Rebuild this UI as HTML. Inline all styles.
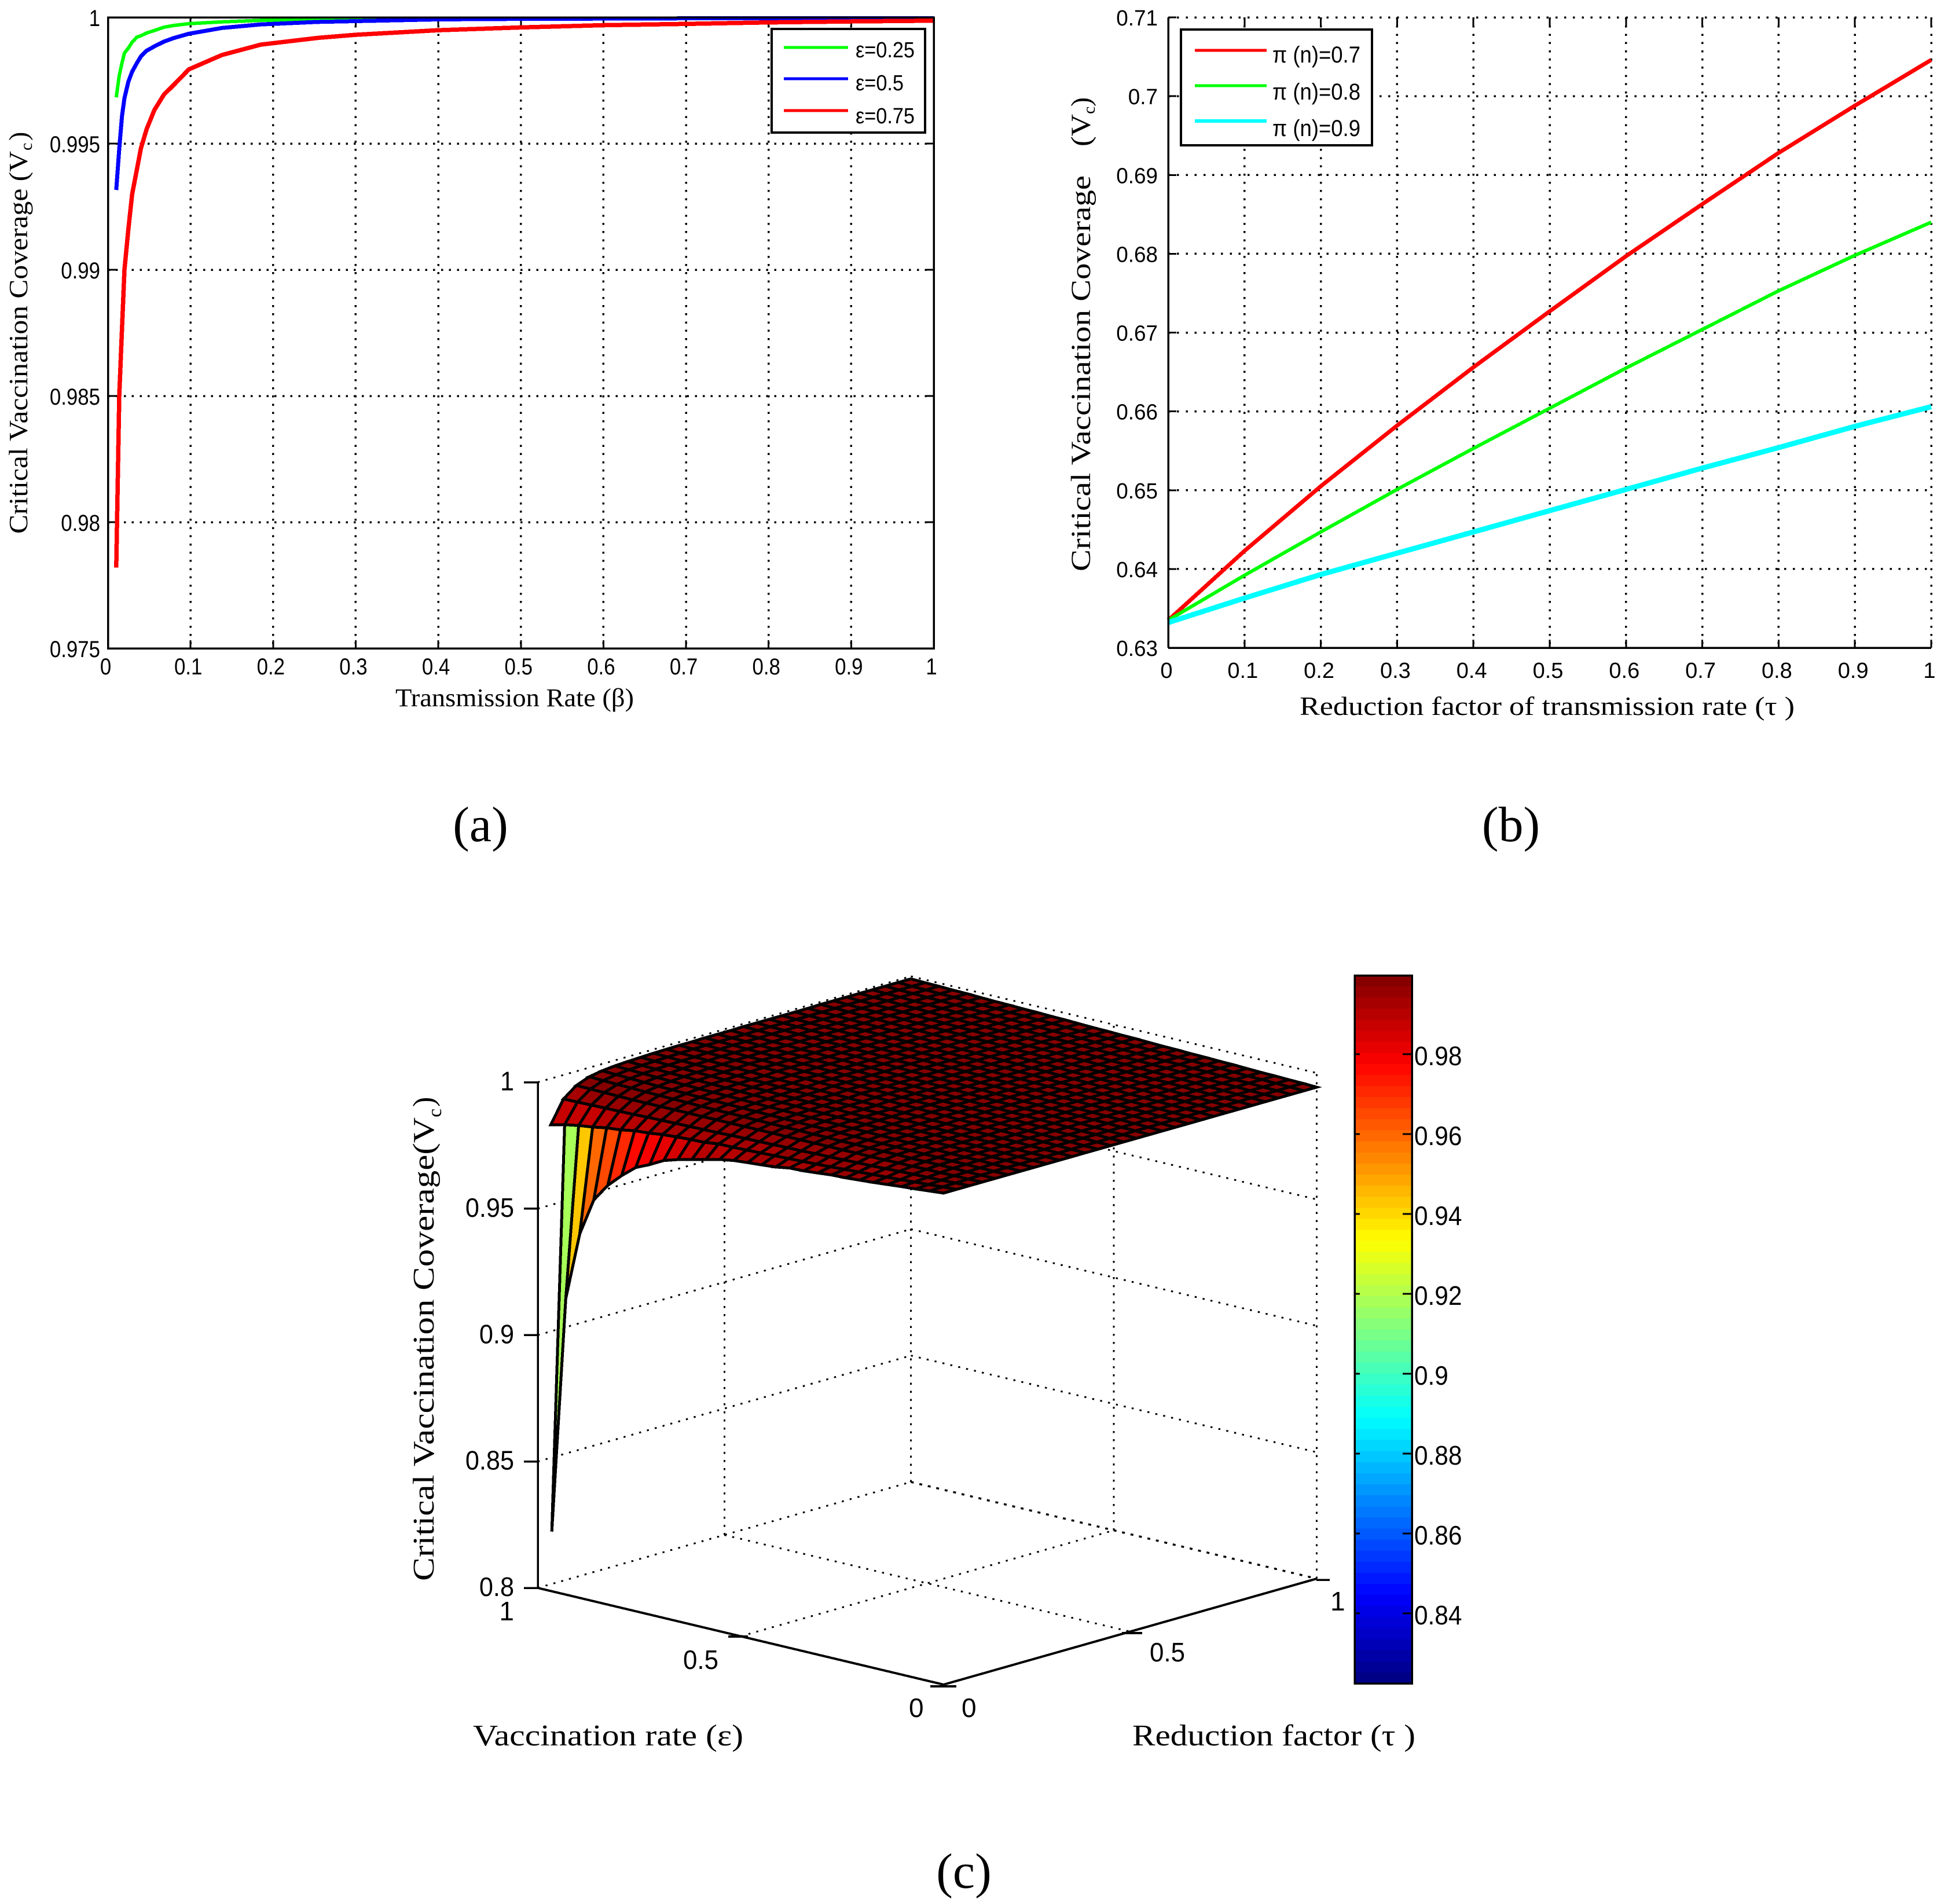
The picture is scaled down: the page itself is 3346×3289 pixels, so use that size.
<!DOCTYPE html>
<html lang="en">
<head>
<meta charset="utf-8">
<title>Critical vaccination coverage charts</title>
<style>
html,body{margin:0;padding:0;background:#fff;}
svg{display:block;}
.sans{font-family:"Liberation Sans",sans-serif;fill:#000;}
.serif{font-family:"Liberation Serif",serif;fill:#000;}
</style>
</head>
<body>
<svg id="root" xmlns="http://www.w3.org/2000/svg" width="3346" height="3289" viewBox="0 0 3346 3289">
<rect width="3346" height="3289" fill="#fff"/>

<g id="panelA"></g>
<g id="panelB"></g>
<g id="panelC"></g>

<!-- panel a static -->
<g>
  <rect x="1333" y="50" width="265" height="179" fill="#fff" stroke="#000" stroke-width="4" shape-rendering="crispEdges"/>
  <line x1="1354" y1="82" x2="1465" y2="82" stroke="#00ff00" stroke-width="5" shape-rendering="crispEdges"/>
  <line x1="1354" y1="136" x2="1465" y2="136" stroke="#0000ff" stroke-width="5" shape-rendering="crispEdges"/>
  <line x1="1354" y1="191" x2="1465" y2="191" stroke="#ff0000" stroke-width="5" shape-rendering="crispEdges"/>
  <text class="sans" x="1478" y="99" font-size="38" textLength="102" lengthAdjust="spacingAndGlyphs">ε=0.25</text>
  <text class="sans" x="1478" y="156" font-size="38" textLength="83" lengthAdjust="spacingAndGlyphs">ε=0.5</text>
  <text class="sans" x="1478" y="213" font-size="38" textLength="102" lengthAdjust="spacingAndGlyphs">ε=0.75</text>
</g>
<text class="serif" x="683" y="1220" font-size="44" textLength="412" lengthAdjust="spacingAndGlyphs">Transmission Rate (β)</text>
<g>
  <text class="serif" transform="translate(47,922) rotate(-90)" font-size="46" textLength="661" lengthAdjust="spacingAndGlyphs">Critical Vaccination Coverage (V</text>
  <text class="serif" transform="translate(55,260) rotate(-90)" font-size="30">c</text>
  <text class="serif" transform="translate(47,243) rotate(-90)" font-size="46">)</text>
</g>
<text class="serif" x="830" y="1453" font-size="86" text-anchor="middle">(a)</text>

<!-- panel b static -->
<g>
  <rect x="2040" y="51" width="330" height="200" fill="#fff" stroke="#000" stroke-width="4" shape-rendering="crispEdges"/>
  <line x1="2064" y1="87" x2="2188" y2="87" stroke="#ff0000" stroke-width="5" shape-rendering="crispEdges"/>
  <line x1="2064" y1="148" x2="2188" y2="148" stroke="#00ff00" stroke-width="5" shape-rendering="crispEdges"/>
  <line x1="2064" y1="209" x2="2188" y2="209" stroke="#00ffff" stroke-width="6" shape-rendering="crispEdges"/>
  <text class="sans" x="2198" y="108" font-size="40" textLength="152" lengthAdjust="spacingAndGlyphs">π (n)=0.7</text>
  <text class="sans" x="2198" y="172" font-size="40" textLength="152" lengthAdjust="spacingAndGlyphs">π (n)=0.8</text>
  <text class="sans" x="2198" y="235" font-size="40" textLength="152" lengthAdjust="spacingAndGlyphs">π (n)=0.9</text>
</g>
<text class="serif" x="2245" y="1235" font-size="46" textLength="855" lengthAdjust="spacingAndGlyphs">Reduction factor of transmission rate (τ )</text>
<g>
  <text class="serif" transform="translate(1883,987) rotate(-90)" font-size="48" textLength="684" lengthAdjust="spacingAndGlyphs">Critical Vaccination Coverage</text>
  <text class="serif" transform="translate(1883,253) rotate(-90)" font-size="48" textLength="56" lengthAdjust="spacingAndGlyphs">(V</text>
  <text class="serif" transform="translate(1891,197) rotate(-90)" font-size="30">c</text>
  <text class="serif" transform="translate(1883,184) rotate(-90)" font-size="48">)</text>
</g>
<text class="serif" x="2610" y="1453" font-size="86" text-anchor="middle">(b)</text>

<!-- panel c static -->
<text class="serif" x="817" y="3015" font-size="52" textLength="467" lengthAdjust="spacingAndGlyphs">Vaccination rate (ε)</text>
<text class="serif" x="1956" y="3015" font-size="52" textLength="489" lengthAdjust="spacingAndGlyphs">Reduction factor (τ )</text>
<g>
  <text class="serif" transform="translate(749,2731) rotate(-90)" font-size="52" textLength="801" lengthAdjust="spacingAndGlyphs">Critical Vaccination Coverage(V</text>
  <text class="serif" transform="translate(762,1930) rotate(-90)" font-size="34">c</text>
  <text class="serif" transform="translate(749,1912) rotate(-90)" font-size="52">)</text>
</g>
<text class="serif" x="1665" y="3261" font-size="86" text-anchor="middle">(c)</text>
</svg>

<script>
// ---------- Panel (a) data ----------
const betaValues = [0.01,0.0137,0.017,0.02,0.0247,0.0293,0.0352,0.0398,0.0468,0.0562,0.0678,0.0796,0.098,0.138,0.185,0.255,0.3,0.4,0.5,0.6,0.7,0.8,0.9,1];
const coverageEps025 = [0.99683,0.9977,0.9982,0.99859,0.99878,0.99902,0.99922,0.99927,0.99938,0.99948,0.99961,0.99968,0.99975,0.99982,0.99988,0.99991,0.99992,0.99994,0.99995,0.99996,0.99997,0.99997,0.99998,0.99998];
const coverageEps05 = [0.99316,0.9948,0.9961,0.9968,0.99745,0.99785,0.9982,0.99845,0.99868,0.99885,0.99904,0.99918,0.99935,0.99958,0.99972,0.99982,0.99985,0.99992,0.99994,0.99995,0.99996,0.99996,0.99997,0.99997];
const coverageEps075 = [0.9782,0.985,0.9877,0.99,0.9916,0.993,0.994,0.9948,0.99557,0.99633,0.99694,0.99732,0.99794,0.99851,0.99892,0.99919,0.99931,0.99949,0.9996,0.99969,0.99974,0.9998,0.99984,0.99987];
const xTickLabelsA = ["0","0.1","0.2","0.3","0.4","0.5","0.6","0.7","0.8","0.9","1"];
const yTickLabelsA = ["0.975","0.98","0.985","0.99","0.995","1"];

// ---------- Panel (b) data ----------
const tauValues = [0,0.1,0.2,0.3,0.4,0.5,0.6,0.7,0.8,0.9,1];
const coveragePi07 = [0.6335,0.6423,0.6505,0.6582,0.6656,0.6727,0.6797,0.6863,0.6928,0.6988,0.7046];
const coveragePi08 = [0.6335,0.6392,0.6447,0.6501,0.6553,0.6604,0.6655,0.6704,0.6753,0.6798,0.684];
const coveragePi09 = [0.6332,0.6363,0.6393,0.642,0.6447,0.6474,0.6501,0.6528,0.6554,0.6581,0.6606];
const xTickLabelsB = ["0","0.1","0.2","0.3","0.4","0.5","0.6","0.7","0.8","0.9","1"];
const yTickLabelsB = ["0.63","0.64","0.65","0.66","0.67","0.68","0.69","0.7","0.71"];

// ---------- Panel (c) data: shortfall from 1, in units of 0.0001; rows run along tau, columns along epsilon (1 to 0) ----------
const row0 = [2500,1764,830,560,413,342,290,245,220,191,174,161,148,134,125,120,116,111,102,100,95,90,88,84,80,75,70,66,61,56];
const row1 = [183,169,159,152,142,137,127,123,116,112,109,107,100,100,98,96,94,92,90,88,85,82,79,76,73,70,66,63,59,56];
const row2 = [95,94,93,92,91,90,88,87,86,85,84,83,81,80,79,78,77,76,74,73,72,70,69,67,65,63,62,60,58,56];
const row3 = [56,57,58,59,60,60,60,60,60,60,60,60,60,60,60,60,60,60,60,60,60,60,60,59,59,58,58,57,57,56];
const row4 = [36,38,40,41,43,44,45,46,47,48,48,49,50,50,51,51,52,52,53,53,54,54,54,55,55,55,55,56,56,56];
const row5 = [27,29,31,33,35,36,38,39,40,41,42,43,44,45,46,47,47,48,49,50,51,51,52,53,53,54,54,55,55,56];
const row6 = [22,24,26,28,30,31,33,34,35,36,38,39,40,41,42,43,44,45,46,47,48,49,50,51,52,53,53,54,55,56];
const row7 = [19,21,23,25,26,28,29,31,32,33,35,36,37,39,40,41,42,44,45,46,47,48,49,50,51,52,53,54,55,56];
const row8 = [17,19,21,22,24,25,27,28,30,31,33,34,36,37,38,40,41,42,44,45,46,47,48,50,51,52,53,54,55,56];
const row9 = [15,17,19,20,22,24,25,27,28,30,31,33,34,36,37,39,40,42,43,44,46,47,48,49,50,52,53,54,55,56];
const row10 = [14,16,18,19,21,23,24,26,28,29,31,32,34,35,37,38,40,41,42,44,45,46,48,49,50,51,53,54,55,56];
const rowNear = [13,14,16,17,19,20,22,23,25,26,28,29,31,32,34,35,37,38,40,41,43,44,46,47,49,50,52,53,55,56];
const rowMid = [12,14,15,17,18,20,21,23,24,26,27,29,30,32,33,35,36,38,39,41,42,44,45,47,48,50,52,53,55,56];
const rowFar = [11,13,14,16,17,19,20,22,23,25,27,28,30,31,33,34,36,37,39,40,42,44,45,47,48,50,51,53,54,56];
const rowBack = [10,12,13,15,16,18,20,21,23,24,26,27,29,31,32,34,35,37,39,40,42,43,45,46,48,50,51,53,54,56];
const surfaceShortfall = [row0,row1,row2,row3,row4,row5,row6,row7,row8,row9,row10,rowNear,rowNear,rowMid,rowMid,rowMid,rowFar,rowFar,rowFar,rowFar,rowFar,rowFar,rowBack,rowBack,rowBack,rowBack,rowBack,rowBack,rowBack,rowBack];
const zTickLabels = ["0.8","0.85","0.9","0.95","1"];
const colorbarTickLabels = ["0.84","0.86","0.88","0.9","0.92","0.94","0.96","0.98"];
const colorLimits = [0.8225,0.9997];

// ---------- helpers ----------
const NS = 'http://www.w3.org/2000/svg';
function mk(tag, attrs, parent){
  const n = document.createElementNS(NS, tag);
  for (const k in attrs) n.setAttribute(k, attrs[k]);
  parent.appendChild(n);
  return n;
}
function numWidth(s, fs, k){
  let w = 0;
  for (const c of s) w += (c === '.') ? 0.278 : 0.556;
  return w * fs * k;
}
const DOT = '3.5 10.5';
const DOT_V = '3.5 10.7';
const DOT_HA = '3.5 10.2';
const DOT_HB = '3.5 11.7';

// ---------- 2D chart scales ----------
const xA = v => 186.5 + v * 1426.5;
const yA = v => 30 + (1 - v) / 0.025 * 1090;
const xB = v => 2018 + v * 1318;
const yB = v => 30 + (0.71 - v) / 0.08 * 1089;

// ---------- Panel (a) ----------
const pa = document.getElementById('panelA');
yTickLabelsA.forEach(t => {
  const v = parseFloat(t), y = yA(v);
  if (v > 0.975 && v < 1) {
    const g = mk('line', {x1:186.5, y1:y, x2:1613, y2:y, stroke:'#000', 'stroke-width':3.5, 'stroke-dasharray':DOT_HA, 'shape-rendering':'crispEdges'}, pa);
    
    
    const m = mk('line', {x1:186.5, y1:y, x2:200, y2:y, stroke:'#000', 'stroke-width':3, 'shape-rendering':'crispEdges'}, pa);
    
    
    const m2 = mk('line', {x1:1600, y1:y, x2:1613, y2:y, stroke:'#000', 'stroke-width':3, 'shape-rendering':'crispEdges'}, pa);
    
    
  }
  const l = mk('text', {x:173, y:y + 15, 'text-anchor':'end', 'font-size':40, class:'sans', textLength:numWidth(t,40,0.87).toFixed(1), lengthAdjust:'spacingAndGlyphs'}, pa);
  
  
  l.textContent = t;
});
xTickLabelsA.forEach(t => {
  const v = parseFloat(t), x = xA(v);
  if (v > 0 && v < 1) {
    const g = mk('line', {x1:x, y1:30, x2:x, y2:1120, stroke:'#000', 'stroke-width':3.5, 'stroke-dasharray':DOT_V, 'shape-rendering':'crispEdges'}, pa);
    
    
    const m = mk('line', {x1:x, y1:1106, x2:x, y2:1120, stroke:'#000', 'stroke-width':3, 'shape-rendering':'crispEdges'}, pa);
    
    
    const m2 = mk('line', {x1:x, y1:30, x2:x, y2:44, stroke:'#000', 'stroke-width':3, 'shape-rendering':'crispEdges'}, pa);
    
    
  }
  const l = mk('text', {x:x - 4, y:1165, 'text-anchor':'middle', 'font-size':40, class:'sans', textLength:numWidth(t,40,0.87).toFixed(1), lengthAdjust:'spacingAndGlyphs'}, pa);
  
  
  l.textContent = t;
});
function seriesPointsA(vals){ return vals.map((v,i) => xA(betaValues[i]).toFixed(1) + ',' + yA(v).toFixed(1)).join(' '); }
const sa1 = mk('polyline', {points:seriesPointsA(coverageEps025), fill:'none', stroke:'#00ff00', 'stroke-width':6, 'shape-rendering':'crispEdges'}, pa);


const sa2 = mk('polyline', {points:seriesPointsA(coverageEps05), fill:'none', stroke:'#0000ff', 'stroke-width':7, 'shape-rendering':'crispEdges'}, pa);


const sa3 = mk('polyline', {points:seriesPointsA(coverageEps075), fill:'none', stroke:'#ff0000', 'stroke-width':7.5, 'shape-rendering':'crispEdges'}, pa);


const boxA = mk('rect', {x:186.5, y:30, width:1426.5, height:1090, fill:'none', stroke:'#000', 'stroke-width':3.5, 'shape-rendering':'crispEdges'}, pa);



// ---------- Panel (b) ----------
const pb = document.getElementById('panelB');
yTickLabelsB.forEach(t => {
  const v = parseFloat(t), y = yB(v);
  if (v > 0.63) {
    const g = mk('line', {x1:2018, y1:y, x2:3336, y2:y, stroke:'#000', 'stroke-width':3.5, 'stroke-dasharray':DOT_HB, 'shape-rendering':'crispEdges'}, pb);
    
    
    const m = mk('line', {x1:2018, y1:y, x2:2032, y2:y, stroke:'#000', 'stroke-width':3, 'shape-rendering':'crispEdges'}, pb);
    
    
  }
  const l = mk('text', {x:2000, y:y + 14, 'text-anchor':'end', 'font-size':38, class:'sans', textLength:numWidth(t,38,0.97).toFixed(1), lengthAdjust:'spacingAndGlyphs'}, pb);
  
  
  l.textContent = t;
});
xTickLabelsB.forEach(t => {
  const v = parseFloat(t), x = xB(v);
  if (v > 0) {
    const g = mk('line', {x1:x, y1:30, x2:x, y2:1119, stroke:'#000', 'stroke-width':3.5, 'stroke-dasharray':DOT_V, 'shape-rendering':'crispEdges'}, pb);
    
    
    const m = mk('line', {x1:x, y1:1105, x2:x, y2:1119, stroke:'#000', 'stroke-width':3, 'shape-rendering':'crispEdges'}, pb);
    
    
    const m2 = mk('line', {x1:x, y1:30, x2:x, y2:44, stroke:'#000', 'stroke-width':3, 'shape-rendering':'crispEdges'}, pb);
    
    
  }
  const l = mk('text', {x:x - 3, y:1171, 'text-anchor':'middle', 'font-size':38, class:'sans'}, pb);
  
  
  l.textContent = t;
});
function seriesPointsB(vals){ return vals.map((v,i) => xB(tauValues[i]).toFixed(1) + ',' + yB(v).toFixed(1)).join(' '); }
const sb1 = mk('polyline', {points:seriesPointsB(coveragePi07), fill:'none', stroke:'#ff0000', 'stroke-width':7, 'shape-rendering':'crispEdges'}, pb);


const sb2 = mk('polyline', {points:seriesPointsB(coveragePi08), fill:'none', stroke:'#00ff00', 'stroke-width':6, 'shape-rendering':'crispEdges'}, pb);


const sb3 = mk('polyline', {points:seriesPointsB(coveragePi09), fill:'none', stroke:'#00ffff', 'stroke-width':9, 'shape-rendering':'crispEdges'}, pb);


const axLB = mk('line', {x1:2018, y1:30, x2:2018, y2:1119, stroke:'#000', 'stroke-width':3.5, 'shape-rendering':'crispEdges'}, pb);


const axBB = mk('line', {x1:2018, y1:1119, x2:3336, y2:1119, stroke:'#000', 'stroke-width':3.5, 'shape-rendering':'crispEdges'}, pb);



// ---------- Panel (c) ----------
const pc = document.getElementById('panelC');
function project(tau, eps, z){
  return [1630 + tau * 644.5 - eps * 701, 2910 - tau * 183 - eps * 167 - (z - 0.8) / 0.2 * 873.5];
}
function jet(z){
  const v = Math.min(0.9999, Math.max(0, (z - colorLimits[0]) / (colorLimits[1] - colorLimits[0])));
  const q = (Math.floor(v * 64) + 0.5) / 64;
  const c = d => Math.round(255 * Math.min(1, Math.max(0, 1.5 - Math.abs(4 * q - d))));
  return 'rgb(' + c(3) + ',' + c(2) + ',' + c(1) + ')';
}
// the plateau reads darker in the picture than its height alone implies
function cellColor(z){
  return jet(z > 0.975 ? z + Math.min(0.0035, (z - 0.975) * 0.35) : z);
}
function dotted(p, q){
  const g = mk('line', {x1:p[0], y1:p[1], x2:q[0], y2:q[1], stroke:'#000', 'stroke-width':3, 'stroke-dasharray':DOT, 'shape-rendering':'crispEdges'}, pc);
  
  
  return g;
}
zTickLabels.forEach(t => {
  const z = parseFloat(t);
  const a = project(0,1,z), b = project(1,1,z), c = project(1,0,z);
  dotted(a, b);
  const br = dotted(b, c);
  if (z === 0.8) {
    br.setAttribute('stroke-width', 3.5);
    br.setAttribute('stroke-dasharray', '5 10');
  }
  const tick = mk('line', {x1:905, y1:a[1], x2:a[0], y2:a[1], stroke:'#000', 'stroke-width':3.5, 'shape-rendering':'crispEdges'}, pc);
  
  
  const l = mk('text', {x:888, y:a[1] + 14, 'text-anchor':'end', 'font-size':46, class:'sans', textLength:numWidth(t,46,0.94).toFixed(1), lengthAdjust:'spacingAndGlyphs'}, pc);
  
  
  l.textContent = t;
});
dotted(project(0.5,1,0.8), project(0.5,1,1));
dotted(project(1,1,0.8), project(1,1,1));
dotted(project(1,0.5,0.8), project(1,0.5,1));
dotted(project(1,0,0.8), project(1,0,1));
dotted(project(0.5,1,0.8), project(0.5,0,0.8));
dotted(project(0,0.5,0.8), project(1,0.5,0.8));

// surface mesh, painted far to near
const nRows = surfaceShortfall.length, nCols = row0.length;
const meshGroup = mk('g', {stroke:'#000', 'stroke-width':5, 'shape-rendering':'crispEdges', 'stroke-linejoin':'miter'}, pc);


const zAt = (j,i) => 1 - surfaceShortfall[j][i] / 10000;
const vAt = (j,i) => project(j / (nRows - 1), 1 - i / (nCols - 1), zAt(j,i));
for (let j = nRows - 2; j >= 0; j--) {
  for (let i = 0; i < nCols - 1; i++) {
    if (Math.min(zAt(j,i), zAt(j+1,i), zAt(j,i+1), zAt(j+1,i+1)) < 0.8) continue;
    const pts = [vAt(j,i), vAt(j,i+1), vAt(j+1,i+1), vAt(j+1,i)].map(p => p[0].toFixed(1) + ',' + p[1].toFixed(1)).join(' ');
    const cell = mk('polygon', {points:pts, fill:cellColor(zAt(j,i+1))}, meshGroup);
    
    
  }
}

// axes in front
const zAxis = mk('line', {x1:929.4, y1:1869.5, x2:929.4, y2:2743, stroke:'#000', 'stroke-width':3.5, 'shape-rendering':'crispEdges'}, pc);


const fL = project(0,1,0.8), fF = project(0,0,0.8), fR = project(1,0,0.8);
const epsAxis = mk('line', {x1:fL[0], y1:fL[1], x2:fF[0], y2:fF[1], stroke:'#000', 'stroke-width':4, 'shape-rendering':'crispEdges'}, pc);


const tauAxis = mk('line', {x1:fF[0], y1:fF[1], x2:fR[0], y2:fR[1], stroke:'#000', 'stroke-width':4, 'shape-rendering':'crispEdges'}, pc);


const t1 = mk('line', {x1:1607, y1:2913, x2:1652, y2:2913, stroke:'#000', 'stroke-width':4, 'shape-rendering':'crispEdges'}, pc);


const t2 = mk('line', {x1:1258, y1:2827, x2:1292, y2:2827, stroke:'#000', 'stroke-width':4, 'shape-rendering':'crispEdges'}, pc);


const t3 = mk('line', {x1:1938, y1:2821, x2:1973, y2:2821, stroke:'#000', 'stroke-width':4, 'shape-rendering':'crispEdges'}, pc);


const t4 = mk('line', {x1:2274, y1:2729, x2:2297, y2:2729, stroke:'#000', 'stroke-width':3.5, 'shape-rendering':'crispEdges'}, pc);



const epsLabel1 = mk('text', {x:888, y:2799, 'text-anchor':'end', 'font-size':46, class:'sans'}, pc);


epsLabel1.textContent = '1';
const epsLabel2 = mk('text', {x:1180, y:2883, 'font-size':46, class:'sans', textLength:61, lengthAdjust:'spacingAndGlyphs'}, pc);


epsLabel2.textContent = '0.5';
const epsLabel3 = mk('text', {x:1570, y:2966, 'font-size':46, class:'sans'}, pc);


epsLabel3.textContent = '0';
const tauLabel1 = mk('text', {x:1661, y:2966, 'font-size':46, class:'sans'}, pc);


tauLabel1.textContent = '0';
const tauLabel2 = mk('text', {x:1986, y:2870, 'font-size':46, class:'sans', textLength:61, lengthAdjust:'spacingAndGlyphs'}, pc);


tauLabel2.textContent = '0.5';
const tauLabel3 = mk('text', {x:2298, y:2782, 'font-size':46, class:'sans'}, pc);


tauLabel3.textContent = '1';

// colorbar
const cbTop = 1685, cbBottom = 2908, cbLeft = 2340, cbRight = 2439;
const cbY = v => cbTop + (colorLimits[1] - v) / (colorLimits[1] - colorLimits[0]) * (cbBottom - cbTop);
const cbGroup = mk('g', {'shape-rendering':'crispEdges'}, pc);


for (let b = 0; b < 64; b++) {
  const vHi = colorLimits[1] - b * (colorLimits[1] - colorLimits[0]) / 64;
  const vLo = colorLimits[1] - (b + 1) * (colorLimits[1] - colorLimits[0]) / 64;
  const r = mk('rect', {x:cbLeft, y:cbY(vHi).toFixed(1), width:cbRight - cbLeft, height:(cbY(vLo) - cbY(vHi) + 1).toFixed(1), fill:jet((vHi + vLo) / 2)}, cbGroup);
  
  
}
const cbFrame = mk('rect', {x:cbLeft, y:cbTop, width:cbRight - cbLeft, height:cbBottom - cbTop, fill:'none', stroke:'#000', 'stroke-width':3.5}, cbGroup);


colorbarTickLabels.forEach(t => {
  const y = cbY(parseFloat(t));
  const a = mk('line', {x1:cbLeft, y1:y, x2:cbLeft + 9, y2:y, stroke:'#000', 'stroke-width':3}, cbGroup);
  
  
  const b = mk('line', {x1:cbRight - 16, y1:y, x2:cbRight, y2:y, stroke:'#000', 'stroke-width':3}, cbGroup);
  
  
  const l = mk('text', {x:2443, y:y + 19, 'font-size':46, class:'sans', textLength:numWidth(t,46,0.92).toFixed(1), lengthAdjust:'spacingAndGlyphs'}, pc);
  
  
  l.textContent = t;
});
</script>
</body>
</html>
